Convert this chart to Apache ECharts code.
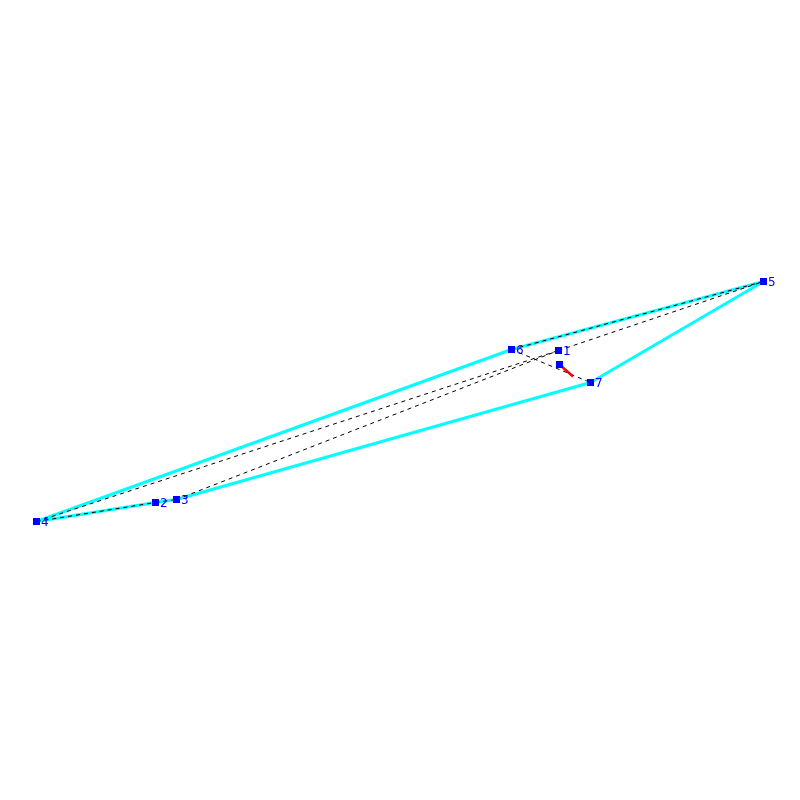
<!DOCTYPE html>
<html>
<head>
    <title>Hull</title>
    <style>
        body { margin: 0; padding: 0; background-color: #fff; }
        #chart { width: 800px; height: 800px; }
    </style>
</head>
<body>
    <div id="chart"></div>
    <script src="https://cdn.jsdelivr.net/npm/echarts@6/dist/echarts.min.js"></script>
    <script>
        // Node positions, the last one has no label
        const nodeLabels = ['1', '2', '3', '4', '5', '6', '7', ''];
        const nodeX = [558.5, 155.5, 176.5, 36.5, 763.5, 511.5, 590.5, 559.5];
        const nodeY = [350.5, 502.5, 499.5, 521.5, 281.5, 349.5, 382.5, 364.5];

        // Outer hull and dashed edges, as node indexes
        const hullOrder = [3, 5, 4, 6, 2, 1, 3];
        const dashedEdges = [[3, 1], [1, 2], [3, 0], [2, 0], [0, 4], [5, 4], [5, 6]];

        // Short red segment leaving the unlabeled node
        const redSegment = [[559.5, 364.5], [573, 376.5]];

        function point(i) {
            return [nodeX[i], nodeY[i]];
        }

        const series = [];

        series.push({
            type: 'line',
            data: hullOrder.map(point),
            symbol: 'none',
            lineStyle: { color: '#00ffff', width: 3 },
            z: 1
        });

        dashedEdges.forEach(function (edge) {
            series.push({
                type: 'line',
                data: edge.map(point),
                symbol: 'none',
                lineStyle: { color: '#000', width: 1, type: [4, 4] },
                z: 2
            });
        });

        series.push({
            type: 'line',
            data: redSegment,
            symbol: 'none',
            lineStyle: { color: '#ff0000', width: 2.5 },
            z: 3
        });

        series.push({
            type: 'scatter',
            data: nodeX.map(function (x, i) {
                return { value: [x, nodeY[i]], name: nodeLabels[i] };
            }),
            symbol: 'rect',
            symbolSize: 7,
            itemStyle: { color: '#0000ff', opacity: 1 },
            label: {
                show: true,
                position: 'right',
                distance: 1,
                offset: [0, 1],
                formatter: '{b}',
                color: '#0000ff',
                fontFamily: 'DejaVu Sans',
                fontSize: 12
            },
            z: 4
        });

        const myChart = echarts.init(document.getElementById('chart'));
        myChart.setOption({
            animation: false,
            backgroundColor: '#fff',
            grid: { left: 0, right: 0, top: 0, bottom: 0 },
            xAxis: { type: 'value', min: 0, max: 800, show: false },
            yAxis: { type: 'value', min: 0, max: 800, inverse: true, show: false },
            series: series
        });
    </script>
</body>
</html>
